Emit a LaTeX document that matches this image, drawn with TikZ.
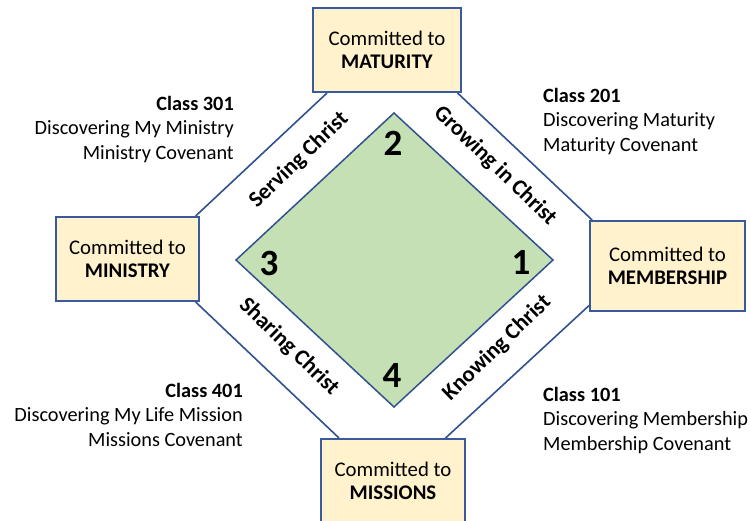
\documentclass[tikz,border=0pt]{standalone}
\usepackage{fontspec}
\setmainfont{Carlito}
\usetikzlibrary{calc}
\definecolor{boxfill}{HTML}{FFF2CC}
\definecolor{boxline}{HTML}{3A5A9E}
\definecolor{linecol}{HTML}{2F528F}
\definecolor{dfill}{HTML}{C5E0B4}
\begin{document}
\begin{tikzpicture}[x=1pt,y=-1pt,
  cbox/.style={draw=boxline,line width=2pt,fill=boxfill,align=center,inner sep=0pt,
    font=\fontsize{20.8}{23.5}\selectfont},
  octline/.style={draw=linecol,line width=1.6pt},
  diam/.style={draw=linecol,line width=1.5pt,fill=dfill,line join=miter},
  num/.style={inner sep=0pt,font=\fontsize{37}{40}\selectfont\bfseries},
  side/.style={inner sep=0pt,font=\fontsize{22.5}{26}\selectfont\bfseries},
  cls/.style={inner sep=0pt,font=\fontsize{20.3}{24.5}\selectfont}]
\useasboundingbox (0,0) rectangle (751,521);
\clip (0,0) rectangle (751,521);
% boxes
\node[cbox,minimum width=148pt,minimum height=84pt] (mat) at (387,50) {Committed to\\\textbf{MATURITY}};
\node[cbox,minimum width=155pt,minimum height=90pt] (mem) at (667.5,266) {Committed to\\\textbf{MEMBERSHIP}};
\node[cbox,minimum width=143pt,minimum height=84pt] (min) at (127.5,259) {Committed to\\\textbf{MINISTRY}};
\node[cbox,minimum width=144pt,minimum height=84pt] (mis) at (393,481) {Committed to\\\textbf{MISSIONS}};
% octagon connectors
\draw[octline] ($(mat.south west)!0.1!(mat.south east)$) -- ($(min.north west)!0.97!(min.north east)$);
\draw[octline] ($(mat.south west)!0.97!(mat.south east)$) -- ($(mem.north west)!0.02!(mem.north east)$);
\draw[octline] ($(mem.south west)!0.07!(mem.north west)$) -- ($(mis.north west)!0.86!(mis.north east)$);
\draw[octline] ($(min.south west)!0.97!(min.south east)$) -- ($(mis.north west)!0.13!(mis.north east)$);
% diamond
\coordinate (dT) at (394,113);
\coordinate (dR) at (553,260);
\coordinate (dB) at (394,407);
\coordinate (dL) at (236,260);
\draw[diam] (dT) -- (dR) -- (dB) -- (dL) -- cycle;
\node[num] (n2) at (393,143) {2};
\node[num] (n3) at (269,263) {3};
\node[num] (n1) at (521,262) {1};
\node[num] (n4) at (392,375) {4};
% side labels
\node[side,rotate=44] (serv) at (299,160) {Serving Christ};
\node[side,rotate=-44] (grow) at (495,166) {Growing in Christ};
\node[side,rotate=44] (know) at (497,348) {Knowing Christ};
\node[side,rotate=-44] (shar) at (289,347) {Sharing Christ};
% class texts
\node[cls,anchor=north east,align=right] (c301) at (234,96) {\textbf{Class 301}\\Discovering My Ministry\\Ministry Covenant};
\node[cls,anchor=north west,align=left] (c201) at (543,88) {\textbf{Class 201}\\Discovering Maturity\\Maturity Covenant};
\node[cls,anchor=north east,align=right] (c401) at (243,383) {\textbf{Class 401}\\Discovering My Life Mission\\Missions Covenant};
\node[cls,anchor=north west,align=left] (c101) at (543,387) {\textbf{Class 101}\\Discovering Membership\\Membership Covenant};
\end{tikzpicture}
\end{document}
